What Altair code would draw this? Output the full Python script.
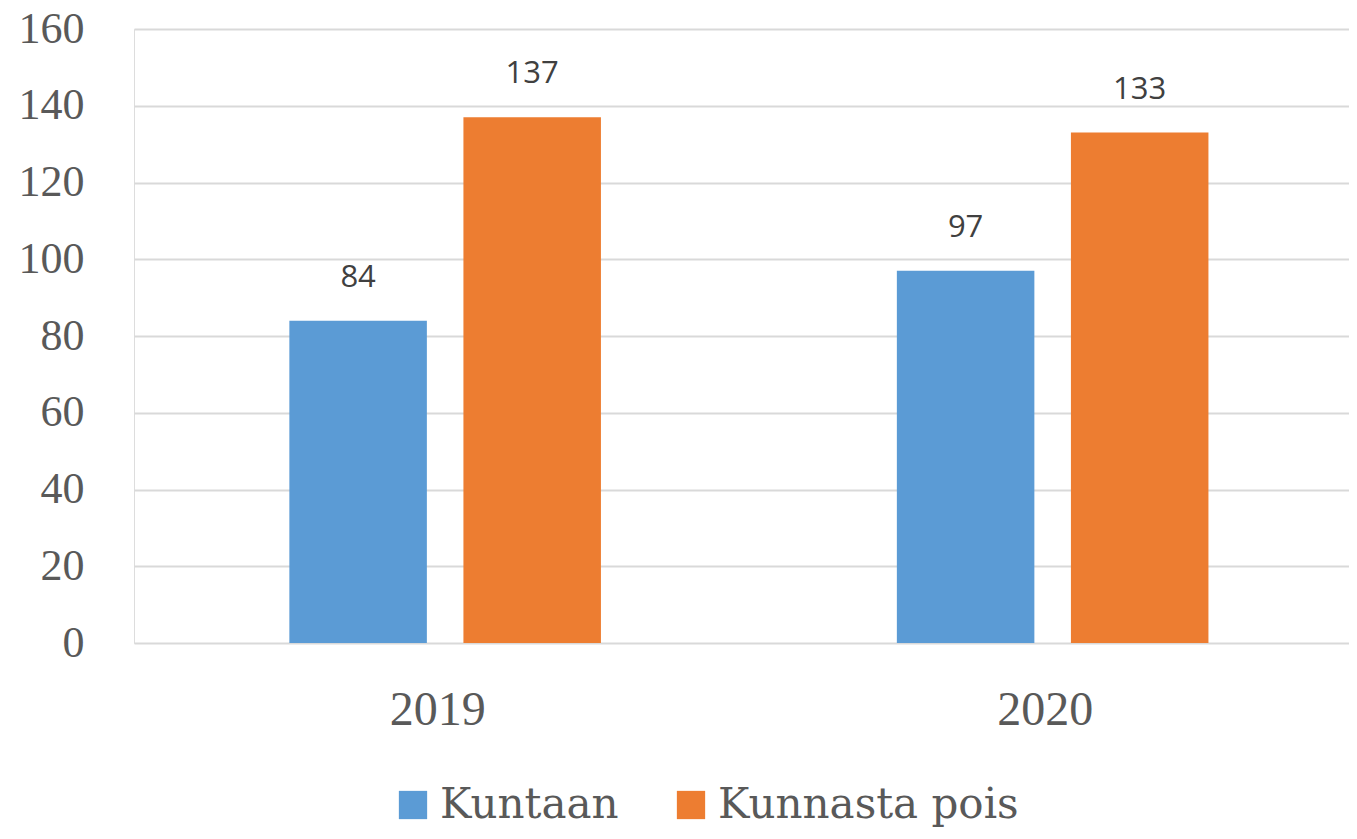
import altair as alt
import pandas as pd

years = ["2019", "2020"]
series = ["Kuntaan", "Kunnasta pois"]
kuntaan = [84, 97]
kunnasta_pois = [137, 133]
colors = ["#5B9BD5", "#ED7D31"]
y_ticks = [0, 20, 40, 60, 80, 100, 120, 140, 160]

rows = []
for i, y in enumerate(years):
    rows.append({"vuosi": y, "sarja": series[0], "arvo": kuntaan[i]})
    rows.append({"vuosi": y, "sarja": series[1], "arvo": kunnasta_pois[i]})
df = pd.DataFrame(rows)

W = 1215
H = 614

x_enc = alt.X("vuosi:N", sort=years, title=None,
              scale=alt.Scale(paddingInner=0, paddingOuter=0),
              axis=alt.Axis(labelAngle=0, labelFont="Liberation Serif", labelFontSize=48,
                            labelColor="#595959", ticks=False, domain=False,
                            labelPadding=43, grid=False))
xoff = alt.XOffset("sarja:N", sort=series,
                   scale=alt.Scale(paddingInner=0.21, paddingOuter=0.85, align=0.525))
y_enc = alt.Y("arvo:Q", title=None,
              scale=alt.Scale(domain=[0, 160], nice=False),
              axis=alt.Axis(values=y_ticks, labelFont="Liberation Serif", labelFontSize=44,
                            labelColor="#595959", ticks=False, domain=False,
                            labelPadding=50, gridColor="#D9D9D9", gridWidth=2))

bars = alt.Chart(df).mark_bar().encode(
    x=x_enc,
    xOffset=xoff,
    y=y_enc,
    color=alt.Color("sarja:N", sort=series,
                    scale=alt.Scale(domain=series, range=colors),
                    legend=alt.Legend(title=None, orient="none", legendX=258, legendY=755,
                                      direction="horizontal", symbolType="square",
                                      symbolSize=800, symbolStrokeWidth=0,
                                      labelFont="DejaVu Serif", labelFontSize=42,
                                      labelColor="#595959", labelOffset=6,
                                      columnPadding=51, labelLimit=400)),
)

labels = alt.Chart(df).mark_text(font="Open Sans", fontSize=31, color="#404040",
                                  baseline="bottom", dy=-27).encode(
    x=alt.X("vuosi:N", sort=years),
    xOffset=alt.XOffset("sarja:N", sort=series),
    y="arvo:Q",
    text="arvo:Q",
)

chart = alt.layer(bars, labels).properties(
    width=W, height=H,
    autosize=alt.AutoSizeParams(type="none"),
    padding={"left": 126, "top": 21, "right": 0, "bottom": 188},
).configure_view(stroke=None).configure(background="white")

chart.save("out.html", embed_options={"renderer": "svg", "actions": False})
